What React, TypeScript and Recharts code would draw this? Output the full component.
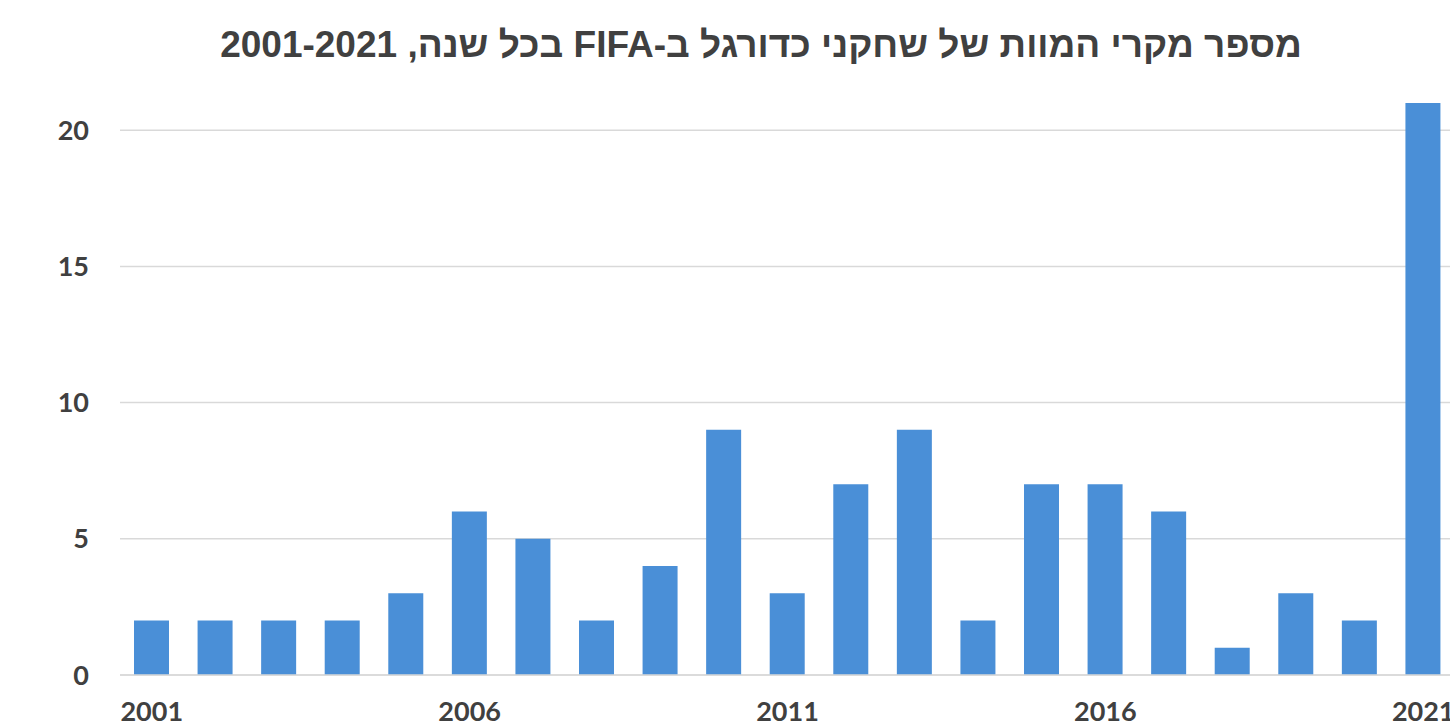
import { BarChart, Bar, XAxis, YAxis, CartesianGrid } from "recharts";

// FIFA football player deaths per year, 2001-2021
const years = [
  "2001", "2002", "2003", "2004", "2005", "2006", "2007", "2008", "2009", "2010",
  "2011", "2012", "2013", "2014", "2015", "2016", "2017", "2018", "2019", "2020", "2021",
];
const deaths = [2, 2, 2, 2, 3, 6, 5, 2, 4, 9, 3, 7, 9, 2, 7, 7, 6, 1, 3, 2, 21];
const yTicks = [0, 5, 10, 15, 20];
const title = "מספר מקרי המוות של שחקני כדורגל ב-FIFA בכל שנה, 2001-2021";

const data = years.map((year, i) => ({ year, deaths: deaths[i] }));

const tickStyle = {
  fill: "#404040",
  fontSize: 27,
  fontWeight: 700,
  fontFamily: "Lato, sans-serif",
};

export default function App() {
  return (
    <div
      style={{
        position: "fixed",
        top: 0,
        left: 0,
        width: 1450,
        height: 725,
        overflow: "hidden",
        background: "#fff",
      }}
    >
      <div style={{ position: "absolute", top: -56, left: 0 }}>
        <BarChart
          width={1460}
          height={781}
          data={data}
          margin={{ top: 50, right: 5, bottom: 0, left: 0 }}
        >
          <CartesianGrid vertical={false} stroke="#d9d9d9" strokeWidth={1.5} />
          <XAxis
            dataKey="year"
            interval={4}
            height={50}
            tickLine={false}
            tickSize={0}
            tickMargin={27}
            axisLine={{ stroke: "#d9d9d9", strokeWidth: 1.5 }}
            tick={tickStyle}
          />
          <YAxis
            width={120}
            domain={[0, 25]}
            ticks={yTicks}
            axisLine={false}
            tickLine={false}
            tickSize={0}
            tickMargin={31}
            tick={tickStyle}
          />
          <Bar dataKey="deaths" fill="#4a8fd7" barSize={35} isAnimationActive={false} />
        </BarChart>
      </div>
      <div
        style={{
          position: "absolute",
          left: 761,
          top: 45,
          transform: "translate(-50%, -50%)",
          whiteSpace: "nowrap",
          direction: "rtl",
          fontFamily: "'Liberation Sans', Arial, sans-serif",
          fontWeight: 700,
          fontSize: 37,
          color: "#404040",
        }}
      >
        {title}
      </div>
    </div>
  );
}
